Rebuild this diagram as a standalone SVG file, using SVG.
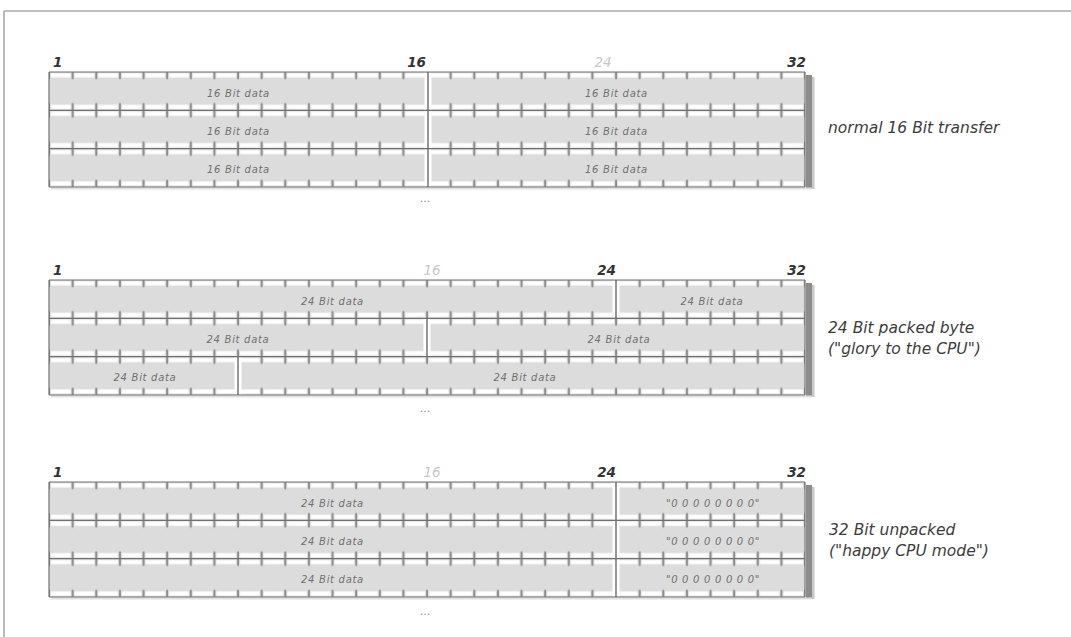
<svg xmlns="http://www.w3.org/2000/svg" width="1071" height="637" viewBox="0 0 1071 637">
<style>
.num{font-family:"DejaVu Sans","Liberation Sans",sans-serif;font-style:italic;font-weight:bold;font-size:13.5px;fill:#333}
.numf{fill:#c8c8c8;font-weight:normal}
.dat{font-family:"DejaVu Sans","Liberation Sans",sans-serif;font-style:italic;font-size:10px;fill:#707070;text-anchor:middle;letter-spacing:0.7px}
.lab{font-family:"DejaVu Sans","Liberation Sans",sans-serif;font-style:italic;font-size:15.5px;fill:#3c3c3c}
.dots{font-family:"DejaVu Sans",sans-serif;font-size:11px;fill:#8a8a8a;text-anchor:middle}
.rowline{stroke:#707070;stroke-width:1.2;fill:none}
.sepline{stroke:#6a6a6a;stroke-width:1.4}
</style>
<defs>
<pattern id="cells" patternUnits="userSpaceOnUse" x="-11.8125" y="0" width="23.625" height="38.333">
<rect x="0" y="0" width="23.625" height="38.333" fill="#dcdcdc"/>
<rect x="13.9" y="1.3" width="9.725" height="4.2" fill="#ffffff"/>
<rect x="0" y="1.3" width="9.7" height="4.2" fill="#ffffff"/>
<rect x="13.9" y="32.8" width="9.725" height="4.2" fill="#ffffff"/>
<rect x="0" y="32.8" width="9.7" height="4.2" fill="#ffffff"/>
<rect x="11.3" y="0" width="1.1" height="7.2" fill="#555555"/>
<rect x="11.3" y="31.1" width="1.1" height="7.3" fill="#555555"/>
</pattern>
<g id="grid-bg">
<rect x="757" y="3" width="6" height="114" fill="#8c8c8c"/>
<rect x="763" y="5" width="2.5" height="112" fill="#c8c8c8"/>
<rect x="2" y="115.5" width="761" height="2" fill="#e0e0e0"/>
<rect x="0" y="0" width="756" height="115" fill="url(#cells)"/>
</g>
<g id="grid-lines">
<line class="rowline" x1="0" y1="0" x2="756" y2="0"/>
<line class="rowline" x1="0" y1="38.33" x2="756" y2="38.33"/>
<line class="rowline" x1="0" y1="76.67" x2="756" y2="76.67"/>
<line class="rowline" x1="0" y1="115" x2="756" y2="115"/>
<line class="rowline" x1="0" y1="0" x2="0" y2="115"/>
<line class="rowline" x1="756" y1="0" x2="756" y2="115"/>
</g>
<g id="sep">
<rect x="-3.5" y="0.6" width="7" height="37.1" fill="#ffffff"/>
<line class="sepline" x1="0" y1="0" x2="0" y2="38.33"/>
</g>
</defs>

<rect x="0" y="0" width="1071" height="637" fill="#ffffff"/>
<g id="frame">
<line x1="4" y1="11" x2="1071" y2="11" stroke="#a8a8a8" stroke-width="1.6"/>
<line x1="4" y1="11" x2="4" y2="637" stroke="#a8a8a8" stroke-width="1.6"/>
</g>

<g id="block-16bit" transform="translate(49,72)">
<use href="#grid-bg"/>
<use href="#sep" x="379" y="0"/>
<use href="#sep" x="379" y="38.33"/>
<use href="#sep" x="379" y="76.67"/>
<use href="#grid-lines"/>
<text class="num" x="4" y="-5.5">1</text>
<text class="num" x="377" y="-5.5" text-anchor="end">16</text>
<text class="num numf" x="554" y="-5.5" text-anchor="middle">24</text>
<text class="num" x="757" y="-5.5" text-anchor="end">32</text>
<text class="dat" x="189.5" y="25">16 Bit data</text>
<text class="dat" x="567.5" y="25">16 Bit data</text>
<text class="dat" x="189.5" y="63">16 Bit data</text>
<text class="dat" x="567.5" y="63">16 Bit data</text>
<text class="dat" x="189.5" y="101">16 Bit data</text>
<text class="dat" x="567.5" y="101">16 Bit data</text>
<text class="dots" x="376" y="130">...</text>
</g>
<g id="label-16bit"><text class="lab" x="828" y="133">normal 16 Bit transfer</text></g>

<g id="block-24packed" transform="translate(49,280)">
<use href="#grid-bg"/>
<use href="#sep" x="567" y="0"/>
<use href="#sep" x="378" y="38.33"/>
<use href="#sep" x="189" y="76.67"/>
<use href="#grid-lines"/>
<text class="num" x="4" y="-5.5">1</text>
<text class="num numf" x="383" y="-5.5" text-anchor="middle">16</text>
<text class="num" x="567" y="-5.5" text-anchor="end">24</text>
<text class="num" x="757" y="-5.5" text-anchor="end">32</text>
<text class="dat" x="283.5" y="25">24 Bit data</text>
<text class="dat" x="663" y="25">24 Bit data</text>
<text class="dat" x="189" y="63">24 Bit data</text>
<text class="dat" x="570" y="63">24 Bit data</text>
<text class="dat" x="96" y="101">24 Bit data</text>
<text class="dat" x="476" y="101">24 Bit data</text>
<text class="dots" x="376" y="132">...</text>
</g>
<g id="label-24packed">
<text class="lab" x="828" y="333">24 Bit packed byte</text>
<text class="lab" x="828" y="354">("glory to the CPU")</text>
</g>

<g id="block-32unpacked" transform="translate(49,482)">
<use href="#grid-bg"/>
<use href="#sep" x="567" y="0"/>
<use href="#sep" x="567" y="38.33"/>
<use href="#sep" x="567" y="76.67"/>
<use href="#grid-lines"/>
<text class="num" x="4" y="-5.5">1</text>
<text class="num numf" x="383" y="-5.5" text-anchor="middle">16</text>
<text class="num" x="567" y="-5.5" text-anchor="end">24</text>
<text class="num" x="757" y="-5.5" text-anchor="end">32</text>
<text class="dat" x="283.5" y="25">24 Bit data</text>
<text class="dat" x="664" y="25">"0 0 0 0 0 0 0 0"</text>
<text class="dat" x="283.5" y="63">24 Bit data</text>
<text class="dat" x="664" y="63">"0 0 0 0 0 0 0 0"</text>
<text class="dat" x="283.5" y="101">24 Bit data</text>
<text class="dat" x="664" y="101">"0 0 0 0 0 0 0 0"</text>
<text class="dots" x="376" y="133">...</text>
</g>
<g id="label-32unpacked">
<text class="lab" x="829" y="535">32 Bit unpacked</text>
<text class="lab" x="829" y="556">("happy CPU mode")</text>
</g>
</svg>
